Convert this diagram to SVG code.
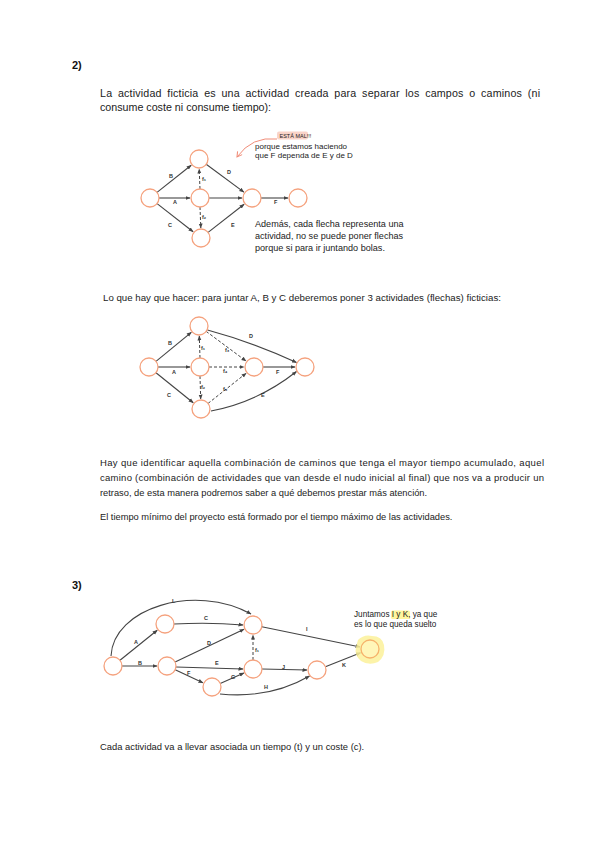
<svg xmlns="http://www.w3.org/2000/svg" width="599" height="848" viewBox="0 0 599 848">
<style>
.txt{font-family:"Liberation Sans",Arial,sans-serif;fill:#222}
.h{font-family:"Liberation Sans",Arial,sans-serif;font-weight:bold;font-size:11px;fill:#111}
.lbl{font-family:"Liberation Sans",Arial,sans-serif;font-size:5.5px;font-weight:bold;fill:#333}
.node{fill:#fff;stroke:#F5A27E;stroke-width:1.3}
.e{fill:none;stroke:#444;stroke-width:1.1;marker-end:url(#ah)}
.d{fill:none;stroke:#444;stroke-width:1;stroke-dasharray:3 2;marker-end:url(#ah)}
</style>
<defs>
<marker id="ah" viewBox="0 0 10 10" refX="9" refY="5" markerWidth="5" markerHeight="5" orient="auto" markerUnits="userSpaceOnUse">
<path d="M0,1 L10,5 L0,9 z" fill="#444"/>
</marker>
<marker id="oah" viewBox="0 0 10 10" refX="8" refY="5" markerWidth="7" markerHeight="7" orient="auto" markerUnits="userSpaceOnUse">
<path d="M1,1 L8,5 L1,9" fill="none" stroke="#F08C78" stroke-width="1.5"/>
</marker>
</defs>
<rect width="599" height="848" fill="#fff"/>

<text class="h" x="72" y="69">2)</text>
<text class="txt" font-size="10.7" x="100" y="97" word-spacing="2.5" textLength="440" lengthAdjust="spacing">La actividad ficticia es una actividad creada para separar los campos o caminos (ni</text>
<text class="txt" font-size="10.7" x="100" y="111">consume coste ni consume tiempo):</text>

<!-- Diagram 1 -->
<g id="d1-connectors">
<path class="e" d="M157,192.4 L191.2,165.2"/>
<path class="e" d="M159,198 L190,198"/>
<path class="e" d="M157.1,203.6 L193.1,231.8"/>
<path class="e" d="M206.2,164.3 L243.9,192.1"/>
<path class="e" d="M209,198 L242,198"/>
<path class="e" d="M208.1,232.4 L244.1,204.2"/>
<path class="e" d="M261,198 L288,198"/>
<path class="d" d="M200,189 L199.2,169"/>
<path class="d" d="M200,207 L200.8,228"/>
<path d="M277,139 Q252,136 237,157" fill="none" stroke="#F08C78" stroke-width="1" marker-end="url(#oah)"/>
</g>
<g id="d1-labels">
<text class="lbl" x="169" y="178">B</text>
<text class="lbl" x="227" y="174">D</text>
<text class="lbl" x="173" y="204">A</text>
<text class="lbl" x="168" y="227">C</text>
<text class="lbl" x="231" y="227">E</text>
<text class="lbl" x="274" y="204">F</text>
<text class="lbl" x="202" y="181">f₁</text>
<text class="lbl" x="202" y="219">f₂</text>
</g>
<g id="d1-n1"><circle class="node" cx="150" cy="198" r="9"/></g>
<g id="d1-n2"><circle class="node" cx="199" cy="159" r="9"/></g>
<g id="d1-n3"><circle class="node" cx="200" cy="198" r="9"/></g>
<g id="d1-n4"><circle class="node" cx="201" cy="238" r="9"/></g>
<g id="d1-n5"><circle class="node" cx="252" cy="198" r="9"/></g>
<g id="d1-n6"><circle class="node" cx="298" cy="198" r="9"/></g>
<g id="d1-note">
<rect x="277" y="131.5" width="31" height="8" rx="2" fill="#F9D3C8"/>
<text class="txt" font-size="5.5" x="279.5" y="137.8" fill="#7a2a1a">ESTÁ MAL!!!</text>
<text class="txt" font-size="8" x="255" y="149">porque  estamos haciendo</text>
<text class="txt" font-size="8" x="255" y="158">que F dependa de E y de D</text>
</g>
<text class="txt" font-size="9.1" x="255" y="227">Además, cada flecha representa una</text>
<text class="txt" font-size="9.1" x="255" y="239">actividad, no se puede poner flechas</text>
<text class="txt" font-size="9.1" x="255" y="251">porque si para ir juntando bolas.</text>

<text class="txt" font-size="9.7" x="103" y="301">Lo que hay que hacer: para juntar A, B y C deberemos poner 3 actividades (flechas) ficticias:</text>

<!-- Diagram 2 -->
<g id="d2-connectors">
<path class="e" d="M156,361.3 L191.3,332.3"/>
<path class="e" d="M158,367 L190,367"/>
<path class="e" d="M156,372.7 L193.2,402.7"/>
<path class="e" d="M207.5,330 Q252,342 296.5,362.5"/>
<path class="e" d="M263,367 L295,367"/>
<path class="e" d="M211,411 Q258,402 296.5,371.5"/>
<path class="d" d="M200,358 L199.3,336"/>
<path class="d" d="M200,376 L200.7,399"/>
<path class="d" d="M206.2,331.4 L246,361"/>
<path class="d" d="M209,367 L244,367"/>
<path class="d" d="M208.1,403.4 L246.2,373.2"/>
</g>
<g id="d2-labels">
<text class="lbl" x="168" y="345">B</text>
<text class="lbl" x="172" y="374">A</text>
<text class="lbl" x="167" y="397">C</text>
<text class="lbl" x="249" y="338">D</text>
<text class="lbl" x="276" y="374">F</text>
<text class="lbl" x="261" y="397">E</text>
<text class="lbl" x="201" y="350">f₁</text>
<text class="lbl" x="225" y="352">f₃</text>
<text class="lbl" x="223" y="373">f₄</text>
<text class="lbl" x="201" y="389">f₂</text>
<text class="lbl" x="223" y="391">f₅</text>
</g>
<g id="d2-n1"><circle class="node" cx="149" cy="367" r="9"/></g>
<g id="d2-n2"><circle class="node" cx="199" cy="326" r="9"/></g>
<g id="d2-n3"><circle class="node" cx="200" cy="367" r="9"/></g>
<g id="d2-n4"><circle class="node" cx="201" cy="409" r="9"/></g>
<g id="d2-n5"><circle class="node" cx="254" cy="367" r="9"/></g>
<g id="d2-n6"><circle class="node" cx="305" cy="367" r="9"/></g>

<text class="txt" font-size="9.5" x="100" y="466" textLength="444" lengthAdjust="spacing">Hay que identificar aquella combinación de caminos que tenga el mayor tiempo acumulado, aquel</text>
<text class="txt" font-size="9.5" x="100" y="481" textLength="444" lengthAdjust="spacing">camino (combinación de actividades que van desde el nudo inicial al final) que nos va a producir un</text>
<text class="txt" font-size="9.3" x="100" y="496">retraso, de esta manera podremos saber a qué debemos prestar más atención.</text>
<text class="txt" font-size="9.3" x="100" y="520">El tiempo mínimo del proyecto está formado por el tiempo máximo de las actividades.</text>

<text class="h" x="72" y="589">3)</text>

<!-- Diagram 3 -->
<g id="d3-connectors">
<path class="e" d="M111,656 C113,608 195,583 251,614"/>
<path class="e" d="M120,660.3 L157.2,630.3"/>
<path class="e" d="M122,666 L157,666"/>
<path class="e" d="M174,624 Q210,622 243,625"/>
<path class="e" d="M175.1,662.1 L244,629.3"/>
<path class="e" d="M176,667 L243,669"/>
<path class="e" d="M175.2,669.8 L202.9,682.8"/>
<path class="e" d="M220.2,683.4 L243.9,673"/>
<path class="e" d="M220,694 Q270,699 309.5,676"/>
<path class="e" d="M262,669 L307,670"/>
<path class="e" d="M325.4,666.7 L360.7,652.7"/>
<path class="e" d="M261.8,626.8 L360.2,647"/>
<path class="d" d="M253,660 L253,635"/>
</g>
<g id="d3-labels">
<text class="lbl" x="172" y="603">L</text>
<text class="lbl" x="134" y="644">A</text>
<text class="lbl" x="138" y="665">B</text>
<text class="lbl" x="204" y="620">C</text>
<text class="lbl" x="207" y="645">D</text>
<text class="lbl" x="215" y="665">E</text>
<text class="lbl" x="187" y="675">F</text>
<text class="lbl" x="231" y="679">G</text>
<text class="lbl" x="264" y="689">H</text>
<text class="lbl" x="282" y="669">J</text>
<text class="lbl" x="306" y="631">I</text>
<text class="lbl" x="342" y="667">K</text>
<text class="lbl" x="255" y="652">f₁</text>
</g>
<g id="d3-n1"><circle class="node" cx="113" cy="666" r="9"/></g>
<g id="d3-n2"><circle class="node" cx="165" cy="624" r="9"/></g>
<g id="d3-n3"><circle class="node" cx="167" cy="666" r="9"/></g>
<g id="d3-n4"><circle class="node" cx="253" cy="625" r="9"/></g>
<g id="d3-n5"><circle class="node" cx="212" cy="687" r="9"/></g>
<g id="d3-n6"><circle class="node" cx="253" cy="669" r="9"/></g>
<g id="d3-n7"><circle class="node" cx="317" cy="670" r="9"/></g>
<g id="d3-n8">
<path d="M358,640 Q364,634 372,636 Q382,636 384,645 Q386,656 378,662 Q369,666 361,661 Q354,655 356,647 z" fill="#FCF19A" opacity="0.85"/>
<circle cx="370" cy="649" r="9" fill="#FFF6B8" stroke="#F6B26B" stroke-width="1.3"/>
</g>
<g id="d3-note">
<rect x="391" y="610.5" width="19" height="8.5" rx="1.5" fill="#FFF59D"/>
<text class="txt" font-size="8.2" x="354" y="617">Juntamos I y K, ya que</text>
<text class="txt" font-size="8.2" x="354" y="627">es lo que queda suelto</text>
</g>

<text class="txt" font-size="9.4" x="100" y="750">Cada actividad va a llevar asociada un tiempo (t) y un coste (c).</text>
</svg>
